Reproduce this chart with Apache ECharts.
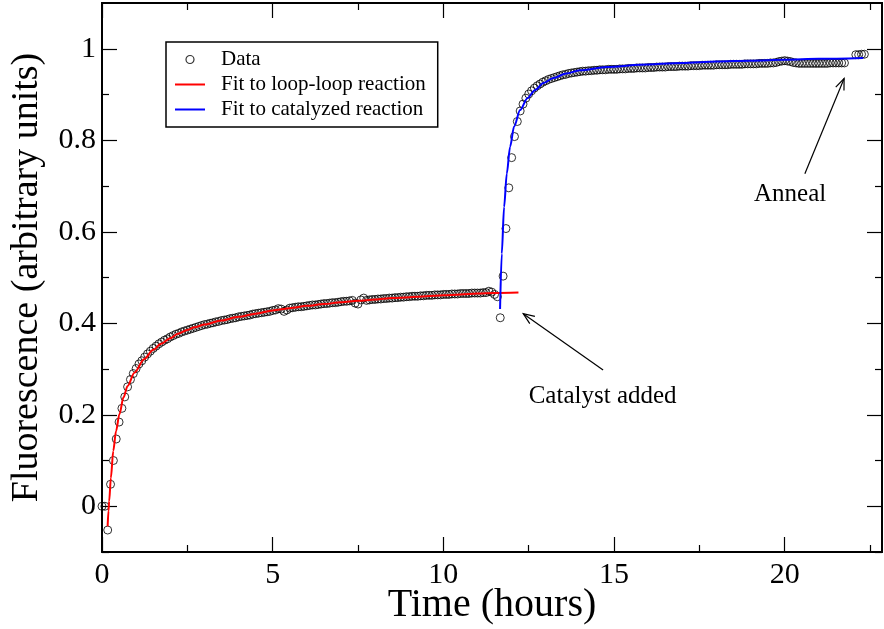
<!DOCTYPE html>
<html><head><meta charset="utf-8">
<script src="https://cdn.jsdelivr.net/npm/echarts@6/dist/echarts.min.js"></script>
<style>html,body{margin:0;padding:0;background:#fff}#c{width:884px;height:629px}</style>
</head><body><div id="c"></div>
<script>
// ---- data (time in minutes, fluorescence in arbitrary units) ----
const loopTimeMin = [
0,5,10,15,20,25,30,35,40,45,50,55,
60,65,70,75,80,85,90,95,100,105,110,115,
120,125,130,135,140,145,150,155,160,165,170,175,
180,185,190,195,200,205,210,215,220,225,230,235,
240,245,250,255,260,265,270,275,280,285,290,295,
300,305,310,315,320,325,330,335,340,345,350,355,
360,365,370,375,380,385,390,395,400,405,410,415,
420,425,430,435,440,445,450,455,460,465,470,475,
480,485,490,495,500,505,510,515,520,525,530,535,
540,545,550,555,560,565,570,575,580,585,590,595,
600,605,610,615,620,625,630,635,640,645,650,655,
660,665,670,675,680,685,690,695];
const loopFluor = [
0.000,0.000,-0.052,0.048,0.100,0.147,0.184,0.214,0.239,0.261,0.277,0.290,
0.301,0.311,0.318,0.326,0.333,0.339,0.345,0.350,0.355,0.359,0.363,0.366,
0.370,0.373,0.376,0.378,0.381,0.383,0.385,0.387,0.389,0.391,0.393,0.395,
0.397,0.398,0.400,0.401,0.403,0.404,0.406,0.407,0.408,0.410,0.411,0.412,
0.414,0.415,0.416,0.417,0.418,0.420,0.421,0.422,0.423,0.424,0.425,0.426,
0.428,0.429,0.432,0.431,0.426,0.429,0.433,0.434,0.435,0.436,0.436,0.437,
0.438,0.439,0.440,0.440,0.441,0.442,0.443,0.443,0.444,0.445,0.445,0.446,
0.447,0.448,0.448,0.449,0.450,0.444,0.442,0.451,0.455,0.450,0.451,0.452,
0.452,0.453,0.453,0.454,0.454,0.455,0.455,0.456,0.456,0.457,0.457,0.458,
0.458,0.459,0.459,0.459,0.460,0.460,0.461,0.461,0.461,0.462,0.462,0.462,
0.463,0.463,0.463,0.464,0.464,0.464,0.465,0.465,0.465,0.465,0.466,0.466,
0.466,0.466,0.467,0.467,0.470,0.468,0.463,0.458];
const catTimeMin = [
700,705,710,715,720,725,730,735,740,745,750,755,760,765,770,775,
780,785,790,795,800,805,810,815,820,825,830,835,
840,845,850,855,860,865,870,875,880,885,890,895,
900,905,910,915,920,925,930,935,940,945,950,955,
960,965,970,975,980,985,990,995,1000,1005,1010,1015,
1020,1025,1030,1035,1040,1045,1050,1055,1060,1065,1070,1075,
1080,1085,1090,1095,1100,1105,1110,1115,1120,1125,1130,1135,
1140,1145,1150,1155,1160,1165,1170,1175,1180,1185,1190,1195,
1200,1205,1210,1215,1220,1225,1230,1235,1240,1245,1250,1255,
1260,1265,1270,1275,1280,1285,1290,1295,1300,1305];
const catFluor = [
0.412,0.503,0.607,0.696,0.762,0.808,0.841,0.864,0.879,0.892,0.901,0.908,0.914,0.919,0.923,0.927,
0.930,0.933,0.935,0.937,0.939,0.941,0.943,0.944,0.946,0.947,0.948,0.949,
0.950,0.951,0.951,0.952,0.952,0.953,0.953,0.954,0.954,0.954,0.955,0.955,
0.955,0.955,0.956,0.956,0.956,0.957,0.957,0.957,0.958,0.958,0.958,0.958,
0.959,0.959,0.959,0.960,0.960,0.960,0.960,0.961,0.961,0.961,0.961,0.962,
0.962,0.962,0.962,0.963,0.963,0.963,0.963,0.964,0.964,0.964,0.964,0.964,
0.965,0.965,0.965,0.965,0.965,0.966,0.966,0.966,0.966,0.966,0.967,0.967,
0.967,0.967,0.967,0.968,0.968,0.968,0.968,0.969,0.969,0.970,0.972,0.973,
0.974,0.973,0.972,0.970,0.969,0.968,0.968,0.968,0.968,0.968,0.968,0.968,
0.968,0.968,0.968,0.968,0.969,0.969,0.969,0.969,0.969,0.969];
const annealTimeMin = [1325,1330,1335,1340];
const annealFluor = [0.987,0.987,0.988,0.988];

// fitted curves (time in hours)
const loopFitT = [0.165,0.19,0.21,0.26,0.33,0.41,0.51,0.63,0.75,0.95,1.24,1.5,1.73,2.0,2.22,2.5,2.71,3.0,3.49,4.0,4.5,5.0,5.5,6.0,6.5,7.0,7.5,8.0,8.5,9.0,9.5,10.0,10.5,11.0,11.5,12.2];
const loopFitV = [-0.044,-0.01,0.011,0.062,0.121,0.164,0.201,0.238,0.263,0.292,0.322,0.342,0.355,0.367,0.377,0.385,0.391,0.397,0.406,0.414,0.421,0.428,0.433,0.438,0.442,0.446,0.449,0.452,0.455,0.457,0.459,0.461,0.463,0.465,0.466,0.467];
const catFitT = [11.661,11.711,11.779,11.858,11.955,12.072,12.249,12.463,12.689,12.933,13.226,13.6,14.0,14.79,15.77,17.0,18.0,19.0,20.0,21.0,22.3];
const catFitV = [0.431,0.552,0.654,0.727,0.786,0.830,0.866,0.892,0.910,0.925,0.936,0.946,0.953,0.960,0.965,0.969,0.972,0.974,0.976,0.978,0.980];

// axis ticks
const xMajor = [0,5,10,15,20];
const xMinor = [2.5,7.5,12.5,17.5,22.5];
const yMajor = [0,0.2,0.4,0.6,0.8,1];
const yMinor = [-0.1,0.1,0.3,0.5,0.7,0.9];

// annotations (data coordinates)
const catalystLabel = {text:'Catalyst added', at:[12.5,0.239]};
const catalystArrow = [[14.68,0.298],[12.34,0.421]];
const annealLabel = {text:'Anneal', at:[19.1,0.682]};
const annealArrow = [[20.59,0.727],[21.74,0.935]];

// ---- build ----
const FONT = "'Liberation Serif','Times New Roman',serif";
const zip = (ts, vs, scale) => ts.map((t,i)=>[t/scale, vs[i]]);
const dataPts = zip(loopTimeMin, loopFluor, 60).concat(zip(catTimeMin, catFluor, 60), zip(annealTimeMin, annealFluor, 60));

const chart = echarts.init(document.getElementById('c'), null, {renderer:'canvas'});
const X0 = 0, X1 = 22.85, Y0 = -0.1, Y1 = 1.1;
const axLine = {show:true, onZero:false, lineStyle:{color:'#000', width:2}};
const noLine = {show:false, onZero:false};
function xAx(pos, ticks, len, labels, extra){
  return Object.assign({type:'value', position:pos, min:X0, max:X1, interval:5,
    axisLine: (labels || pos==='top') ? axLine : noLine,
    axisTick:{show:true, inside:true, length:len, customValues:ticks, lineStyle:{color:'#000', width:1.2}},
    axisLabel: labels ? {show:true, customValues:ticks, color:'#000', fontFamily:FONT, fontSize:30, margin:8} : {show:false},
    splitLine:{show:false}}, extra||{});
}
function yAx(pos, ticks, len, labels, extra){
  return Object.assign({type:'value', position:pos, min:Y0, max:Y1,
    axisLine: (labels || pos==='right') ? axLine : noLine,
    axisTick:{show:true, inside:true, length:len, customValues:ticks, lineStyle:{color:'#000', width:1.2}},
    axisLabel: labels ? {show:true, customValues:ticks, color:'#000', fontFamily:FONT, fontSize:30, margin:6} : {show:false},
    splitLine:{show:false}}, extra||{});
}
const lineIcon = 'path://M0,0H30V2H0Z';

chart.setOption({
  animation:false,
  backgroundColor:'#fff',
  grid:{left:102, right:2, top:3, bottom:77, containLabel:false, outerBoundsMode:'none'},
  xAxis:[
    xAx('bottom', xMajor, 15, true, {name:'Time (hours)', nameLocation:'middle', nameGap:33, nameMoveOverlap:false,
      nameTextStyle:{color:'#000', fontFamily:FONT, fontSize:40}}),
    xAx('bottom', xMinor, 7, false),
    xAx('top', xMajor, 15, false),
    xAx('top', xMinor, 7, false)
  ],
  yAxis:[
    yAx('left', yMajor, 15, true, {name:'Fluorescence (arbitrary units)', nameLocation:'middle', nameGap:56,
      nameTextStyle:{color:'#000', fontFamily:FONT, fontSize:38}}),
    yAx('left', yMinor, 7, false),
    yAx('right', yMajor, 15, false),
    yAx('right', yMinor, 7, false)
  ],
  legend:{
    show:true, orient:'vertical', left:166, top:42,
    backgroundColor:'#fff', borderColor:'#000', borderWidth:1.5, borderRadius:0,
    padding:[7,12,7,9], itemGap:4, itemWidth:30, itemHeight:8, symbolKeepAspect:true,
    textStyle:{color:'#000', fontFamily:FONT, fontSize:21, padding:[0,0,0,11]},
    data:[
      {name:'Data', icon:'circle', itemStyle:{color:'rgba(0,0,0,0)', borderColor:'#000', borderWidth:1.2}},
      {name:'Fit to loop-loop reaction', icon:lineIcon, itemStyle:{color:'#ff0000', borderWidth:0}},
      {name:'Fit to catalyzed reaction', icon:lineIcon, itemStyle:{color:'#0000ff', borderWidth:0}}
    ]
  },
  series:[
    {name:'Data', type:'scatter', data:dataPts, symbol:'circle', symbolSize:8,
      itemStyle:{color:'rgba(0,0,0,0)', borderColor:'#000', borderWidth:1}, z:2},
    {name:'Fit to loop-loop reaction', type:'line', data:zip(loopFitT, loopFitV, 1), symbol:'none',
      smooth:0.3, smoothMonotone:'x', lineStyle:{color:'#ff0000', width:2}, itemStyle:{color:'#ff0000'}, z:3},
    {name:'Fit to catalyzed reaction', type:'line', data:zip(catFitT, catFitV, 1), symbol:'none',
      smooth:0.3, smoothMonotone:'x', lineStyle:{color:'#0000ff', width:2}, itemStyle:{color:'#0000ff'}, z:4}
  ]
});

// annotations
function px(p){ return chart.convertToPixel({xAxisIndex:0, yAxisIndex:0}, p); }
function arrow(pair){
  const a = px(pair[0]), b = px(pair[1]);
  const ang = Math.atan2(b[1]-a[1], b[0]-a[0]);
  const L = 12, w = 0.38;
  const w1 = [b[0]-L*Math.cos(ang-w), b[1]-L*Math.sin(ang-w)];
  const w2 = [b[0]-L*Math.cos(ang+w), b[1]-L*Math.sin(ang+w)];
  return [
    {type:'line', shape:{x1:a[0], y1:a[1], x2:b[0], y2:b[1]}, style:{stroke:'#000', lineWidth:1.2}},
    {type:'polyline', shape:{points:[w1, b, w2]}, style:{stroke:'#000', lineWidth:1.2, fill:null}}
  ];
}
function label(l){
  const p = px(l.at);
  return {type:'text', x:p[0], y:p[1], style:{text:l.text, fill:'#000', font:'25px '+FONT, textAlign:'left', textVerticalAlign:'middle'}};
}
chart.setOption({graphic:[].concat(arrow(catalystArrow), arrow(annealArrow), [label(catalystLabel), label(annealLabel)])});
</script>
</body></html>
